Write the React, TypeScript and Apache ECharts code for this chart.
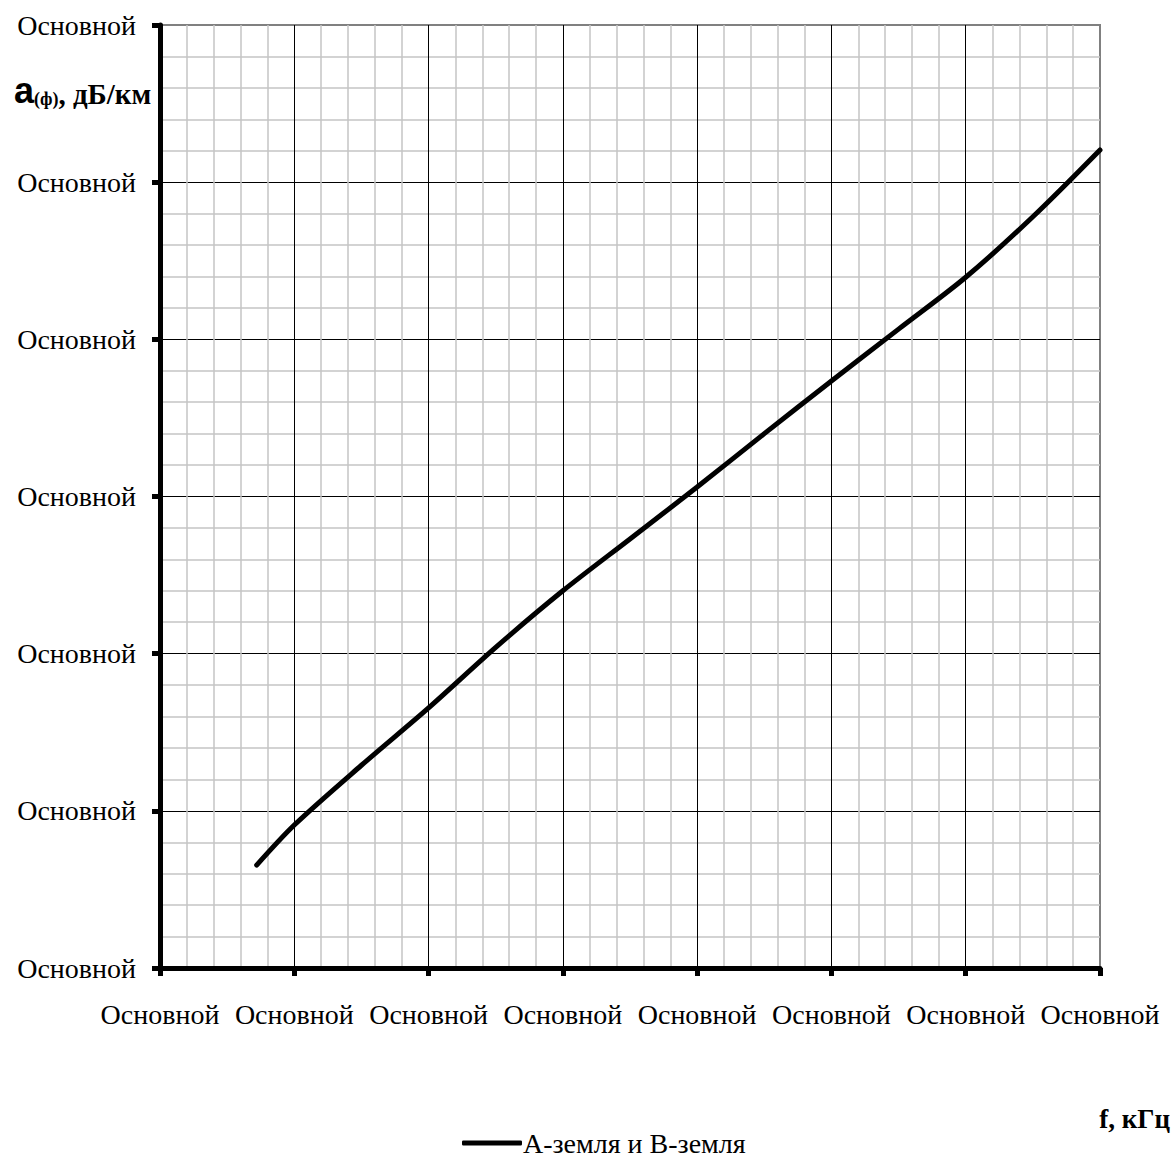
import React, { useEffect, useRef } from "react";
import * as echarts from "echarts";

const seriesName = "А-земля и В-земля";
const tickLabel = "Основной";
const xValues = [0.72, 1, 1.5, 2, 2.5, 3, 3.5, 4, 4.5, 5, 5.5, 6, 6.5, 7];
const yValues = [0.655, 0.91, 1.29, 1.655, 2.04, 2.4, 2.73, 3.06, 3.4, 3.735, 4.065, 4.395, 4.78, 5.205];
const xRange = [0, 7];
const yRange = [0, 6];

const serif = "Liberation Serif";
const sans = "Liberation Sans";

export default function App() {
  const ref = useRef<HTMLDivElement>(null);
  useEffect(() => {
    if (!ref.current) return;
    const chart = echarts.init(ref.current, null, { renderer: "svg" });
    const data = xValues.map((x, i) => [x, yValues[i]]);
    chart.setOption({
      animation: false,
      backgroundColor: "#ffffff",
      textStyle: { fontFamily: serif },
      grid: {
        left: 160,
        right: 73,
        top: 25,
        bottom: 189,
        show: true,
        borderColor: "#808080",
        borderWidth: 2,
        containLabel: false,
      },
      xAxis: {
        type: "value",
        min: xRange[0],
        max: xRange[1],
        interval: 1,
        axisLine: { show: true, onZero: false, lineStyle: { color: "#000", width: 5 } },
        axisTick: { show: true, length: 8, lineStyle: { color: "#000", width: 5 } },
        axisLabel: {
          formatter: () => tickLabel,
          color: "#000",
          fontFamily: serif,
          fontSize: 28,
          margin: 32,
        },
        splitLine: { show: true, showMaxLine: false, lineStyle: { color: "#000", width: 1 } },
        minorTick: { show: false, splitNumber: 5 },
        minorSplitLine: { show: true, lineStyle: { color: "#c4c4c4", width: 1.5 } },
      },
      yAxis: {
        type: "value",
        min: yRange[0],
        max: yRange[1],
        interval: 1,
        axisLine: { show: true, onZero: false, lineStyle: { color: "#000", width: 5 } },
        axisTick: { show: true, length: 8, lineStyle: { color: "#000", width: 5 } },
        axisLabel: {
          formatter: () => tickLabel,
          color: "#000",
          fontFamily: serif,
          fontSize: 28,
          margin: 24,
        },
        splitLine: { show: true, showMaxLine: false, lineStyle: { color: "#000", width: 1 } },
        minorTick: { show: false, splitNumber: 5 },
        minorSplitLine: { show: true, lineStyle: { color: "#c4c4c4", width: 1.5 } },
      },
      legend: {
        show: true,
        left: 457,
        top: 1124,
        itemWidth: 60,
        itemHeight: 5,
        itemGap: 10,
        textStyle: { color: "#000", fontFamily: serif, fontSize: 28, padding: [0, 0, 0, -4] },
        data: [{ name: seriesName, icon: "roundRect" }],
      },
      graphic: [
        {
          type: "text",
          left: 14,
          top: 72,
          style: {
            text: "{a|a}{s|(ф)}{b|, дБ/км}",
            rich: {
              a: { fontFamily: sans, fontWeight: "bold", fontSize: 36, fill: "#000", verticalAlign: "bottom" },
              s: { fontFamily: serif, fontWeight: "bold", fontSize: 18, fill: "#000", padding: [14, 0, 0, 0], verticalAlign: "bottom" },
              b: { fontFamily: serif, fontWeight: "bold", fontSize: 29, fill: "#000", verticalAlign: "bottom" },
            },
          },
        },
        {
          type: "text",
          right: 3,
          top: 1105,
          style: {
            text: "f, кГц",
            fontFamily: serif,
            fontWeight: "bold",
            fontSize: 27,
            fill: "#000",
          },
        },
      ],
      series: [
        {
          name: seriesName,
          type: "line",
          data,
          smooth: 0.3,
          symbol: "none",
          showSymbol: false,
          lineStyle: { color: "#000", width: 5, cap: "round" },
          itemStyle: { color: "#000" },
        },
      ],
    });
    return () => chart.dispose();
  }, []);
  return (
    <div
      ref={ref}
      style={{ position: "absolute", left: 0, top: 0, width: 1173, height: 1157 }}
    />
  );
}
